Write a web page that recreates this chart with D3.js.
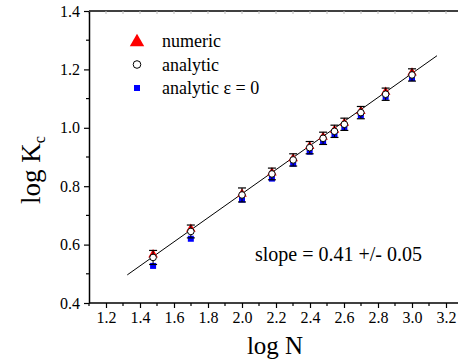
<!DOCTYPE html>
<html>
<head>
<meta charset="utf-8">
<script src="https://cdn.jsdelivr.net/npm/d3@7"></script>
<style>
  body { margin: 0; background: #fff; }
  svg { display: block; }
</style>
</head>
<body>
<svg id="chart" width="458" height="362"></svg>
<script>
// log N for N = 30, 50, 100, 150, 200, 250, 300, 350, 400, 500, 700, 1000
const logN = [1.477, 1.699, 2.0, 2.176, 2.301, 2.398, 2.477, 2.544, 2.602, 2.699, 2.845, 3.0];
const numeric = [0.569, 0.657, 0.777, 0.850, 0.898, 0.940, 0.972, 0.996, 1.020, 1.060, 1.126, 1.192];
const analytic = [0.556, 0.645, 0.770, 0.842, 0.890, 0.932, 0.964, 0.988, 1.012, 1.052, 1.115, 1.181];
const analyticEps0 = [0.527, 0.620, 0.754, 0.826, 0.877, 0.918, 0.953, 0.976, 1.001, 1.042, 1.106, 1.170];
const errAnalytic = [0.024, 0.022, 0.024, 0.020, 0.021, 0.021, 0.021, 0.021, 0.021, 0.021, 0.021, 0.021];
const fitX = [1.325, 3.147];
const fitSlope = 0.412, fitIntercept = -0.0497;
const xTicks = [1.2, 1.4, 1.6, 1.8, 2.0, 2.2, 2.4, 2.6, 2.8, 3.0, 3.2];
const yTicks = [0.4, 0.6, 0.8, 1.0, 1.2, 1.4];

const serif = "'Liberation Serif', 'Times New Roman', serif";
const svg = d3.select("#chart");
const mLeft = 89, mTop = 11, mBottom = 303, mRight = 463;

const x = d3.scaleLinear().domain([1.1, 3.3]).range([mLeft, mRight]);
const y = d3.scaleLinear().domain([0.4, 1.4]).range([mBottom, mTop]);

// minor ticks
const xMinor = d3.range(1.1, 3.31, 0.1);
const yMinor = d3.range(0.5, 1.4, 0.2);

// top axis (faint inward ticks)
svg.append("line").attr("x1", mLeft).attr("x2", 458).attr("y1", mTop).attr("y2", mTop)
  .attr("stroke", "#000").attr("stroke-width", 1.5);
svg.selectAll(".topTick").data(xMinor).join("line")
  .attr("x1", d => x(d)).attr("x2", d => x(d)).attr("y1", mTop).attr("y2", mTop + 3)
  .attr("stroke", "#bbb").attr("stroke-width", 1);

// bottom axis
const xAxis = d3.axisBottom(x).tickValues(xTicks).tickFormat(d3.format(".1f"))
  .tickSize(5).tickSizeOuter(0).tickPadding(4);
const gx = svg.append("g").attr("transform", `translate(0,${mBottom})`).call(xAxis);
gx.select(".domain").attr("stroke-width", 1.5).attr("d", `M${mLeft},0H458`);
gx.selectAll(".tick line").attr("stroke-width", 1.2);
gx.selectAll(".minor").data(xMinor.filter((d, i) => i % 2 === 0)).join("line")
  .attr("class", "minor")
  .attr("x1", d => x(d)).attr("x2", d => x(d)).attr("y1", 0).attr("y2", 3)
  .attr("stroke", "#000").attr("stroke-width", 1.2);

// left axis
const yAxis = d3.axisLeft(y).tickValues(yTicks).tickFormat(d3.format(".1f"))
  .tickSize(5).tickSizeOuter(0).tickPadding(4);
const gy = svg.append("g").attr("transform", `translate(${mLeft},0)`).call(yAxis);
gy.select(".domain").attr("stroke-width", 1.5);
gy.selectAll(".tick line").attr("stroke-width", 1.2);
gy.selectAll(".minor").data(yMinor).join("line")
  .attr("class", "minor")
  .attr("x1", 0).attr("x2", -3).attr("y1", d => y(d)).attr("y2", d => y(d))
  .attr("stroke", "#000").attr("stroke-width", 1.2);

svg.selectAll(".tick text").style("font-size", "16px");

// axis titles
svg.append("text").attr("x", 275).attr("y", 354).attr("text-anchor", "middle")
  .style("font-size", "25px").text("log N");
const yt = svg.append("text").attr("transform", "translate(40,170) rotate(-90)")
  .attr("text-anchor", "middle").style("font-size", "27px");
yt.append("tspan").text("log K");
yt.append("tspan").style("font-size", "16px").attr("dy", 5).text("c");

// fit line
svg.append("line")
  .attr("x1", x(fitX[0])).attr("y1", y(fitSlope * fitX[0] + fitIntercept))
  .attr("x2", x(fitX[1])).attr("y2", y(fitSlope * fitX[1] + fitIntercept))
  .attr("stroke", "#000").attr("stroke-width", 1);

const idx = d3.range(logN.length);
const tri = d3.symbol().type(d3.symbolTriangle);

// blue squares
svg.selectAll(".sq").data(idx).join("rect")
  .attr("x", i => x(logN[i]) - 3).attr("y", i => y(analyticEps0[i]) - 3)
  .attr("width", 6).attr("height", 6).attr("fill", "#0000ff");

// red triangles
svg.selectAll(".tri").data(idx).join("path")
  .attr("d", tri.size(40))
  .attr("transform", i => `translate(${x(logN[i])},${y(numeric[i]) + 1})`)
  .attr("fill", "#ff0000");

// error bars
const cap = 4;
const eb = svg.selectAll(".eb").data(idx).join("g");
eb.append("line")
  .attr("x1", i => x(logN[i])).attr("x2", i => x(logN[i]))
  .attr("y1", i => y(analytic[i] + errAnalytic[i])).attr("y2", i => y(analytic[i] - errAnalytic[i]))
  .attr("stroke", "#000").attr("stroke-width", 1);
eb.append("line")
  .attr("x1", i => x(logN[i]) - cap).attr("x2", i => x(logN[i]) + cap)
  .attr("y1", i => y(analytic[i] + errAnalytic[i])).attr("y2", i => y(analytic[i] + errAnalytic[i]))
  .attr("stroke", "#000").attr("stroke-width", 1.2);
eb.append("line")
  .attr("x1", i => x(logN[i]) - cap).attr("x2", i => x(logN[i]) + cap)
  .attr("y1", i => y(analytic[i] - errAnalytic[i])).attr("y2", i => y(analytic[i] - errAnalytic[i]))
  .attr("stroke", "#000").attr("stroke-width", 1.2);

// open circles
svg.selectAll(".circ").data(idx).join("circle")
  .attr("cx", i => x(logN[i])).attr("cy", i => y(analytic[i]))
  .attr("r", 3.3).attr("fill", "#fff").attr("stroke", "#000").attr("stroke-width", 1);

// legend
const legend = [
  { label: "numeric", kind: "tri" },
  { label: "analytic", kind: "circ" },
  { label: "analytic \u03b5 = 0", kind: "sq" }
];
const lg = svg.selectAll(".lg").data(legend).join("g")
  .attr("transform", (d, i) => `translate(137,${41 + i * 23.5})`);
lg.each(function (d) {
  const g = d3.select(this);
  if (d.kind === "tri") g.append("path").attr("d", d3.symbol().type(d3.symbolTriangle).size(90)())
    .attr("transform", "translate(0,1)").attr("fill", "#ff0000");
  if (d.kind === "circ") g.append("circle").attr("r", 3.8).attr("fill", "#fff")
    .attr("stroke", "#000").attr("stroke-width", 1);
  if (d.kind === "sq") g.append("rect").attr("x", -3).attr("y", -3).attr("width", 6).attr("height", 6)
    .attr("fill", "#0000ff");
});
lg.append("text").attr("x", 25).attr("y", 6).style("font-size", "18px").text(d => d.label);

// slope annotation
svg.append("text").attr("x", 255).attr("y", 261).style("font-size", "20px")
  .text("slope = 0.41 +/- 0.05");

// force the serif face on every label, including the axis ones
svg.selectAll("text").attr("font-family", null).style("font-family", serif).attr("fill", "#000");
svg.selectAll("g").attr("font-family", null);
</script>
</body>
</html>
